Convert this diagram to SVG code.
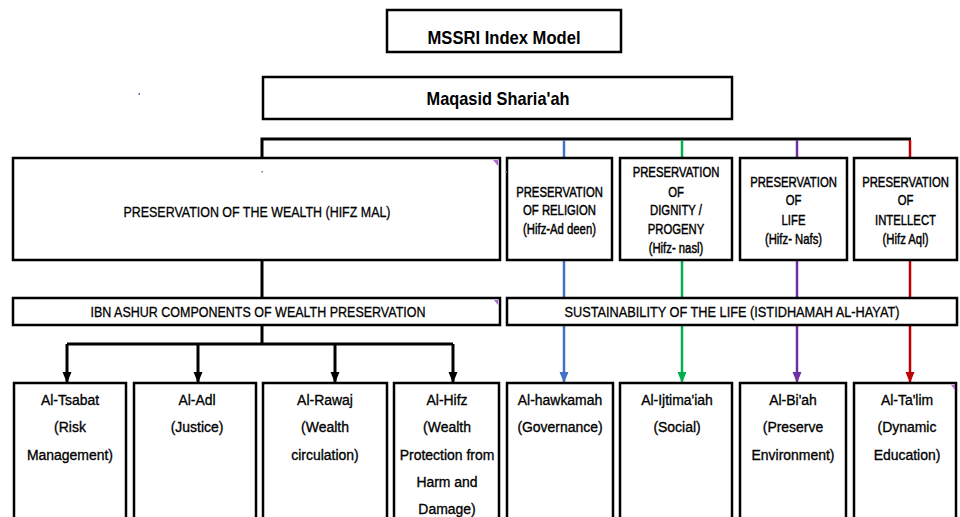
<svg xmlns="http://www.w3.org/2000/svg" width="960" height="517" viewBox="0 0 960 517">
<defs>
<style>
.box{fill:#fff;stroke:#000;stroke-width:2.5}
.t{font-family:"Liberation Sans",Arial,sans-serif;fill:#000;text-anchor:middle}
.b{font-weight:bold;font-size:18.5px}
.cap{font-size:14.5px;stroke:#000;stroke-width:0.45}
.cal{font-size:15.5px;stroke:#000;stroke-width:0.35}
.mid{font-size:14.5px;stroke:#000;stroke-width:0.3}
.k{fill:none;stroke:#000;stroke-width:3}
.c{fill:none;stroke-width:2.5}
.corner{fill:#B366D6}
</style>
<marker id="ak" markerUnits="userSpaceOnUse" markerWidth="12" markerHeight="10" refX="11" refY="4.5" orient="auto"><path d="M0,0 L11,4.5 L0,9 z" fill="#000"/></marker>
<marker id="ab" markerUnits="userSpaceOnUse" markerWidth="12" markerHeight="10" refX="11" refY="4.5" orient="auto"><path d="M0,0 L11,4.5 L0,9 z" fill="#4472C4"/></marker>
<marker id="ag" markerUnits="userSpaceOnUse" markerWidth="12" markerHeight="10" refX="11" refY="4.5" orient="auto"><path d="M0,0 L11,4.5 L0,9 z" fill="#00B050"/></marker>
<marker id="ap" markerUnits="userSpaceOnUse" markerWidth="12" markerHeight="10" refX="11" refY="4.5" orient="auto"><path d="M0,0 L11,4.5 L0,9 z" fill="#7030A0"/></marker>
<marker id="ar" markerUnits="userSpaceOnUse" markerWidth="12" markerHeight="10" refX="11" refY="4.5" orient="auto"><path d="M0,0 L11,4.5 L0,9 z" fill="#C00000"/></marker>
</defs>
<rect width="960" height="517" fill="#fff"/>

<g id="connectors">
<path class="k" d="M262,159 V139 H911"/>
<path class="k" d="M262,260 V298"/>
<path class="k" d="M262,325 V344 M67,344 H453"/>
<path class="k" d="M67,344 V383" marker-end="url(#ak)"/>
<path class="k" d="M198,344 V383" marker-end="url(#ak)"/>
<path class="k" d="M335,344 V383" marker-end="url(#ak)"/>
<path class="k" d="M453,344 V383" marker-end="url(#ak)"/>
<path class="c" stroke="#4472C4" d="M564,140 V383" marker-end="url(#ab)"/>
<path class="c" stroke="#00B050" d="M682,140 V383" marker-end="url(#ag)"/>
<path class="c" stroke="#7030A0" d="M797,140 V383" marker-end="url(#ap)"/>
<path class="c" stroke="#C00000" d="M910,140 V383" marker-end="url(#ar)"/>
</g>

<g id="title">
<rect class="box" x="387" y="10" width="234" height="42"/>
<text class="t b" x="504" y="44" textLength="153" lengthAdjust="spacingAndGlyphs">MSSRI Index Model</text>
</g>

<g id="maqasid">
<rect class="box" x="263" y="77" width="469" height="42"/>
<text class="t b" x="498" y="105" textLength="143" lengthAdjust="spacingAndGlyphs">Maqasid Sharia'ah</text>
</g>

<g id="wealth">
<rect class="box" x="13" y="158" width="487" height="102"/>
<text class="t mid" x="257" y="217" textLength="267" lengthAdjust="spacingAndGlyphs">PRESERVATION OF THE WEALTH (HIFZ MAL)</text>
<path class="corner" d="M493,160 H498 V166 z"/>
</g>

<g id="religion">
<rect class="box" x="507" y="158" width="105" height="102"/>
<g transform="translate(559.5,0) scale(0.78,1)">
<text class="t cap" x="0" y="197">PRESERVATION</text>
<text class="t cap" x="0" y="215">OF RELIGION</text>
<text class="t cap" x="0" y="234">(Hifz-Ad deen)</text>
</g>
</g>

<g id="dignity">
<rect class="box" x="620" y="158" width="112" height="102"/>
<g transform="translate(676,0) scale(0.78,1)">
<text class="t cap" x="0" y="177">PRESERVATION</text>
<text class="t cap" x="0" y="197">OF</text>
<text class="t cap" x="0" y="215">DIGNITY /</text>
<text class="t cap" x="0" y="234">PROGENY</text>
<text class="t cap" x="0" y="253">(Hifz- nasl)</text>
</g>
</g>

<g id="life">
<rect class="box" x="740" y="158" width="107" height="102"/>
<g transform="translate(793.5,0) scale(0.78,1)">
<text class="t cap" x="0" y="187">PRESERVATION</text>
<text class="t cap" x="0" y="205">OF</text>
<text class="t cap" x="0" y="225">LIFE</text>
<text class="t cap" x="0" y="244">(Hifz- Nafs)</text>
</g>
</g>

<g id="intellect">
<rect class="box" x="854" y="158" width="103" height="102"/>
<g transform="translate(905.5,0) scale(0.78,1)">
<text class="t cap" x="0" y="187">PRESERVATION</text>
<text class="t cap" x="0" y="205">OF</text>
<text class="t cap" x="0" y="225">INTELLECT</text>
<text class="t cap" x="0" y="244">(Hifz Aql)</text>
</g>
</g>

<g id="ibnashur">
<rect class="box" x="13" y="298" width="487" height="27"/>
<text class="t mid" x="258" y="317" textLength="335" lengthAdjust="spacingAndGlyphs">IBN ASHUR COMPONENTS OF WEALTH PRESERVATION</text>
<path class="corner" d="M494,300 H498 V305 z"/>
</g>

<g id="sustainability">
<rect class="box" x="507" y="298" width="450" height="27"/>
<text class="t mid" x="732" y="317" textLength="335" lengthAdjust="spacingAndGlyphs">SUSTAINABILITY OF THE LIFE (ISTIDHAMAH AL-HAYAT)</text>
</g>

<g id="tsabat">
<rect class="box" x="14" y="383" width="112" height="150"/>
<g transform="translate(70,0) scale(0.9,1)">
<text class="t cal" x="0" y="405">Al-Tsabat</text>
<text class="t cal" x="0" y="432">(Risk</text>
<text class="t cal" x="0" y="460">Management)</text>
</g>
</g>

<g id="adl">
<rect class="box" x="134" y="383" width="122" height="150"/>
<g transform="translate(197,0) scale(0.9,1)">
<text class="t cal" x="0" y="405">Al-Adl</text>
<text class="t cal" x="0" y="432">(Justice)</text>
</g>
</g>

<g id="rawaj">
<rect class="box" x="263" y="383" width="124" height="150"/>
<g transform="translate(325,0) scale(0.9,1)">
<text class="t cal" x="0" y="405">Al-Rawaj</text>
<text class="t cal" x="0" y="432">(Wealth</text>
<text class="t cal" x="0" y="460">circulation)</text>
</g>
</g>

<g id="hifz">
<rect class="box" x="394" y="383" width="105" height="150"/>
<g transform="translate(447,0) scale(0.9,1)">
<text class="t cal" x="0" y="405">Al-Hifz</text>
<text class="t cal" x="0" y="432">(Wealth</text>
<text class="t cal" x="0" y="460">Protection from</text>
<text class="t cal" x="0" y="487">Harm and</text>
<text class="t cal" x="0" y="514">Damage)</text>
</g>
</g>

<g id="hawkamah">
<rect class="box" x="507" y="383" width="106" height="150"/>
<g transform="translate(560,0) scale(0.9,1)">
<text class="t cal" x="0" y="405">Al-hawkamah</text>
<text class="t cal" x="0" y="432">(Governance)</text>
</g>
</g>

<g id="ijtimaiah">
<rect class="box" x="620" y="383" width="112" height="150"/>
<g transform="translate(677,0) scale(0.9,1)">
<text class="t cal" x="0" y="405">Al-Ijtima'iah</text>
<text class="t cal" x="0" y="432">(Social)</text>
</g>
</g>

<g id="biah">
<rect class="box" x="740" y="383" width="106" height="150"/>
<g transform="translate(793,0) scale(0.9,1)">
<text class="t cal" x="0" y="405">Al-Bi'ah</text>
<text class="t cal" x="0" y="432">(Preserve</text>
<text class="t cal" x="0" y="460">Environment)</text>
</g>
</g>

<g id="talim">
<rect class="box" x="854" y="383" width="102" height="150"/>
<g transform="translate(907,0) scale(0.9,1)">
<text class="t cal" x="0" y="405">Al-Ta'lim</text>
<text class="t cal" x="0" y="432">(Dynamic</text>
<text class="t cal" x="0" y="460">Education)</text>
</g>
<path class="corner" d="M951,385 H955 V390 z"/>
</g>

<g id="specks" fill="#4F81BD">
<rect x="138.5" y="93" width="1.5" height="2"/>
<rect x="261.5" y="171" width="1.5" height="1.5"/>
<rect x="505.5" y="171" width="1.5" height="1.5"/>
</g>
</svg>
